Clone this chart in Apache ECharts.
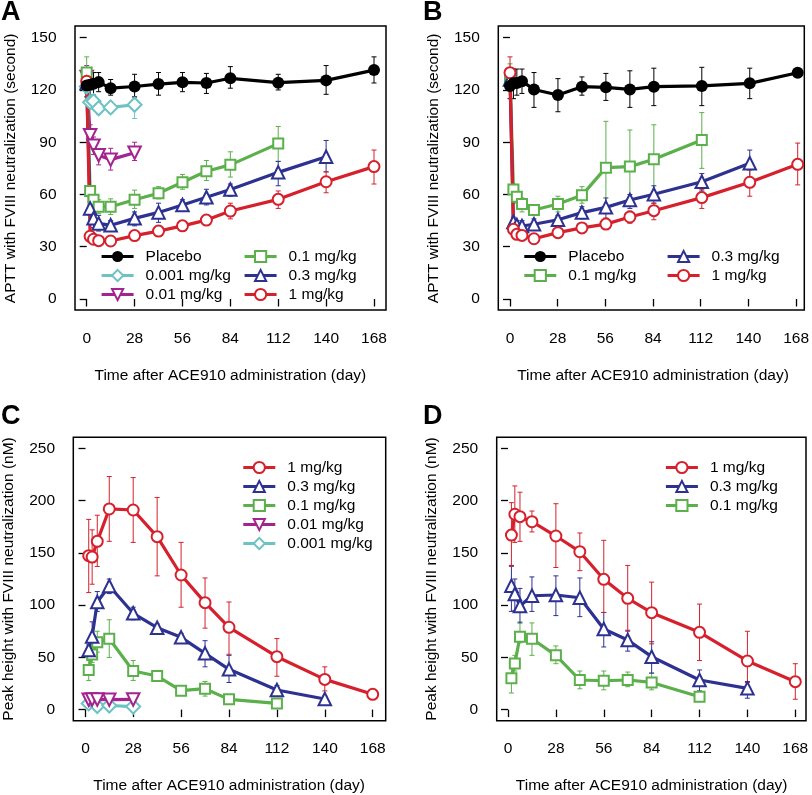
<!DOCTYPE html>
<html><head><meta charset="utf-8">
<script src="https://cdn.jsdelivr.net/npm/echarts@6/dist/echarts.min.js"></script>
<style>html,body{margin:0;padding:0;background:#fff}#c{width:812px;height:795px}</style>
</head><body><div id="c"></div>
<script>
// ---------- DATA ----------
const days = [0, 2, 4, 7, 14, 28, 42, 56, 70, 84, 112, 140, 168];
const xTicks = [0, 28, 56, 84, 112, 140, 168];
const namePlacebo = 'Placebo', n0001 = '0.001 mg/kg', n001 = '0.01 mg/kg', n01 = '0.1 mg/kg', n03 = '0.3 mg/kg', n1 = '1 mg/kg';

// Panel A: APTT, all groups
const A_placebo    = [122.5, 123, 123.5, 124.5, 121, 122, 123.4, 124.4, 124, 126.7, 124.2, 125.5, 131.4];
const A_placebo_lo = [116, 116, 117, 119, 117, 116, 117, 119, 118, 121, 120, 117.5, 124];
const A_placebo_hi = [130, 130, 130, 130, 126, 129, 130, 130, 129.5, 133.4, 129, 134, 139];
const A_0001    = [122, 113, 113.5, 109.5, 110, 111.5];
const A_0001_lo = [118, 110, 109, 106, 106.5, 103.6];
const A_0001_hi = [126, 116, 117, 113, 113, 116];
const A_001     = [127.5, 94, 88, 82.5, 80, 84];
const A_001_lo  = [121, 88, 83, 77, 74, 79.5];
const A_001_hi  = [134, 100, 93, 86, 86.5, 90];
const A_01      = [130, 62, 57, 53, 53, 57, 60.7, 67, 73.3, 77, 89.2];
const A_01_lo   = [121, 59, 53, 49, 48.5, 52, 57.5, 63, 68, 70, 79];
const A_01_hi   = [139, 65, 60, 57, 57.5, 62.5, 64.5, 71.5, 79.5, 84.5, 99];
const A_03      = [124, 52, 46.3, 43.4, 42.3, 46.3, 49.7, 54, 58.4, 62.9, 72.7, 81.7];
const A_03_lo   = [119, 48, 41, 39, 39, 42, 44, 50.5, 54, 59, 65, 73];
const A_03_hi   = [129, 56, 51, 48, 45, 50, 55, 57, 63, 66, 79, 91];
const A_1       = [125, 36, 34.3, 33.5, 33.3, 36.4, 39, 42, 45.3, 50.5, 57.2, 67.3, 76];
const A_1_lo    = [120, 34, 32.5, 31.5, 31.5, 34.5, 37, 40.5, 43.5, 46, 52, 61, 66];
const A_1_hi    = [130, 38, 36, 35.5, 35, 38.5, 41, 44, 47.5, 55, 62, 73, 85.5];

// Panel B: APTT, multiple-dose groups
const B_placebo    = [122.3, 123.8, 124, 125, 120.3, 117.1, 121.9, 121.5, 120.3, 121.9, 122.3, 123.8, 129.9];
const B_placebo_lo = [115, 115, 117, 118, 110, 107.5, 117, 114, 110, 111, 111, 115, 128];
const B_placebo_hi = [130, 132, 132, 132, 130, 126.5, 127.5, 129.5, 131, 132.5, 133, 132.5, 131];
const B_01      = [127.5, 62.9, 58.7, 54.5, 51.1, 54.5, 59.5, 75.4, 76, 80.2, 91.3];
const B_01_lo   = [120, 60, 55, 50, 49, 50, 55, 49, 56, 60, 75];
const B_01_hi   = [135, 66, 62, 58, 53, 59, 64.5, 102, 97, 100, 107];
const B_03      = [126, 44.2, 42.5, 41.9, 42.9, 45.5, 49.6, 52.6, 56.8, 60.1, 67.3, 77.9];
const B_03_lo   = [121, 41, 40, 39, 40, 43, 46, 46, 52, 55, 62, 70];
const B_03_hi   = [132, 47, 45, 45, 46, 48, 53, 58, 60, 65, 72, 85.5];
const B_1       = [129.9, 40, 37.1, 36.5, 34.6, 38.1, 40.8, 43, 47.1, 50.7, 58.2, 67, 77.3];
const B_1_lo    = [121, 38, 35, 35, 33, 36.5, 39, 40, 43.5, 45.5, 52, 59, 65.5];
const B_1_hi    = [139, 42, 39, 38.5, 36.5, 40, 43, 46.5, 50.5, 55, 63, 74, 89.5];

// Panel C: peak height, all groups
const C_1       = [null, 147.3, 146, 161, 192, 191, 165.5, 128.8, 102.4, 78.8, 50.7, 29, 14.7];
const C_1_lo    = [null, 112, 120, 137, 161, 160, 128, 98, 78, 53, 32, 18, 13];
const C_1_hi    = [null, 182, 172, 186, 223, 222, 203, 160, 126, 103, 68, 41, 16];
const C_03      = [null, 57, 70, 103, 118.3, 92.2, 78.4, 69.2, 53.9, 38.6, 18.8, 10.2];
const C_03_lo   = [null, 52, 60, 94, 111, 86, 74, 66, 41, 26, 14, 5];
const C_03_hi   = [null, 62, 84, 113, 125, 98, 82, 73, 66, 52, 23, 13];
const C_01      = [null, 37.9, 52.9, 64.4, 67.9, 37, 32.2, 18.2, 20.1, 9.9, 6];
const C_01_lo   = [null, 28, 45, 55, 50, 28, 29, 15, 13, 8, 5];
const C_01_hi   = [null, 47, 60, 75, 86, 47, 36, 22, 27, 12, 7];
const C_001     = [null, 9.5, 9.8, 9.8, 9.6, 9.8];
const C_001_lo  = [null, 8.5, 8.8, 8.8, 8.6, 8.8];
const C_001_hi  = [null, 10.5, 10.8, 10.8, 10.6, 10.8];
const C_0001    = [null, 6, null, 3.5, 4, 3];
const C_0001_lo = [null, 5, null, 2.5, 3, 2];
const C_0001_hi = [null, 7, null, 4.5, 5, 4];

// Panel D: peak height, multiple-dose groups
const D_1       = [null, 167, 186.9, 184.6, 179.8, 166.1, 151.1, 124.7, 106.5, 92.8, 74, 46.6, 26.8];
const D_1_lo    = [null, 137, 160, 161, 170, 136, 133, 93, 75, 63, 47, 26, 10];
const D_1_hi    = [null, 198, 214, 208, 190, 197, 169, 162, 138, 122, 101, 75, 44];
const D_03      = [null, 118.6, 110.6, 99.2, 109, 109.7, 107.1, 77.2, 66.6, 50.7, 28.4, 20.4];
const D_03_lo   = [null, 94, 95, 83, 94, 90, 89, 60, 56, 35, 18, 11];
const D_03_hi   = [null, 138, 125, 116, 127, 128, 126, 93, 76, 65, 38, 27];
const D_01      = [null, 30, 44.3, 69.8, 67.9, 52, 28.4, 27.7, 28.4, 26.1, 12.4];
const D_01_lo   = [null, 16, 37, 64, 52, 44, 20, 19, 22, 19, 10];
const D_01_hi   = [null, 44, 52, 84, 83, 61, 37, 37, 36, 35, 15];

// ---------- STYLE ----------
const FONT = 'Liberation Sans, Arial, sans-serif';
const sty = {};
sty[namePlacebo] = {color: '#000000', symbol: 'circle', size: 12, filled: true, rot: 0};
sty[n0001] = {color: '#6dc2c4', symbol: 'diamond', size: 14, filled: false, rot: 0};
sty[n001]  = {color: '#a3238f', symbol: 'triangle', size: 12.5, filled: false, rot: 180};
sty[n01]   = {color: '#5bb04b', symbol: 'rect', size: 10, filled: false, rot: 0};
sty[n03]   = {color: '#2d3190', symbol: 'triangle', size: 12.5, filled: false, rot: 0};
sty[n1]    = {color: '#d6202c', symbol: 'circle', size: 11, filled: false, rot: 0};

const panels = [
  {letter: 'A', L: {l: 75, r: 386, t: 26, b: 310, x0: 86.7, x168: 374, yTop: 37.7, y0: 299, yMax: 150, yInt: 30},
   yName: 'APTT with FVIII neutralization (second)',
   groups: [[n0001, A_0001, A_0001_lo, A_0001_hi], [n001, A_001, A_001_lo, A_001_hi], [n01, A_01, A_01_lo, A_01_hi],
            [n03, A_03, A_03_lo, A_03_hi], [n1, A_1, A_1_lo, A_1_hi], [namePlacebo, A_placebo, A_placebo_lo, A_placebo_hi]],
   legends: [{left: 100, top: 248.5, data: [namePlacebo, n0001, n001]}, {left: 243, top: 248.5, data: [n01, n03, n1]}]},
  {letter: 'B', L: {l: 498.3, r: 804.3, t: 26, b: 310, x0: 510, x168: 797.7, yTop: 37.7, y0: 299, yMax: 150, yInt: 30},
   yName: 'APTT with FVIII neutralization (second)',
   groups: [[n01, B_01, B_01_lo, B_01_hi], [n03, B_03, B_03_lo, B_03_hi], [n1, B_1, B_1_lo, B_1_hi], [namePlacebo, B_placebo, B_placebo_lo, B_placebo_hi]],
   legends: [{left: 522.7, top: 248.5, data: [namePlacebo, n01]}, {left: 666, top: 248.5, data: [n03, n1]}]},
  {letter: 'C', L: {l: 73.3, r: 385.7, t: 437.3, b: 720.7, x0: 85.3, x168: 372.7, yTop: 448.3, y0: 709.7, yMax: 250, yInt: 50},
   yName: 'Peak height with FVIII neutralization (nM)',
   groups: [[n0001, C_0001, C_0001_lo, C_0001_hi], [n001, C_001, C_001_lo, C_001_hi], [n01, C_01, C_01_lo, C_01_hi],
            [n03, C_03, C_03_lo, C_03_hi], [n1, C_1, C_1_lo, C_1_hi]],
   legends: [{left: 241.7, top: 459.5, data: [n1, n03, n01, n001, n0001]}]},
  {letter: 'D', L: {l: 496.7, r: 806, t: 437.3, b: 720.7, x0: 508, x168: 795.3, yTop: 448.3, y0: 709.7, yMax: 250, yInt: 50},
   yName: 'Peak height with FVIII neutralization (nM)',
   groups: [[n01, D_01, D_01_lo, D_01_hi], [n03, D_03, D_03_lo, D_03_hi], [n1, D_1, D_1_lo, D_1_hi]],
   legends: [{left: 664.3, top: 459.5, data: [n1, n03, n01]}]}
];
const letterPos = [{left: 1, top: -1}, {left: 423, top: -1}, {left: 1, top: 403}, {left: 423, top: 403}];

const opt = {animation: false, backgroundColor: '#fff', grid: [], xAxis: [], yAxis: [], series: [], legend: [], title: []};

panels.forEach((p, k) => {
  const L = p.L;
  const pxX = (L.x168 - L.x0) / 168;
  const pxY = (L.y0 - L.yTop) / L.yMax;
  const gi = opt.grid.length;
  // box grid (data)
  opt.grid.push({left: L.l, top: L.t, width: L.r - L.l, height: L.b - L.t, show: true, borderColor: '#000', borderWidth: 1.5, backgroundColor: 'transparent'});
  opt.xAxis.push({gridIndex: gi, type: 'value', min: -(L.x0 - L.l) / pxX, max: 168 + (L.r - L.x168) / pxX, show: false});
  opt.yAxis.push({gridIndex: gi, type: 'value', min: -(L.b - L.y0) / pxY, max: L.yMax + (L.yTop - L.t) / pxY, show: false});
  // axis grid (ticks & labels)
  opt.grid.push({left: L.x0, top: L.yTop, width: L.x168 - L.x0, height: L.y0 - L.yTop, show: false});
  const tickStyle = {color: '#000', width: 1.3};
  opt.xAxis.push({gridIndex: gi + 1, type: 'value', min: 0, max: 168, interval: 28, offset: L.b - L.y0 + 2.4,
    axisLine: {show: false}, axisTick: {show: true, length: 7.5, lineStyle: tickStyle}, splitLine: {show: false},
    axisLabel: {color: '#000', fontSize: 15.5, fontFamily: FONT, margin: 18, showMinLabel: true, showMaxLabel: true},
    name: 'Time after ACE910 administration (day)', nameLocation: 'middle', nameGap: 55,
    nameTextStyle: {color: '#000', fontSize: 15.5, fontFamily: FONT}});
  opt.yAxis.push({gridIndex: gi + 1, type: 'value', min: 0, max: L.yMax, interval: L.yInt, offset: L.x0 - L.l + 2.5,
    axisLine: {show: false}, axisTick: {show: true, length: 7, lineStyle: tickStyle}, splitLine: {show: false},
    axisLabel: {color: '#000', fontSize: 15.5, fontFamily: FONT, margin: 16, showMinLabel: true, showMaxLabel: true},
    name: p.yName, nameLocation: 'middle', nameGap: 54,
    nameTextStyle: {color: '#000', fontSize: 15.5, fontFamily: FONT}});

  p.groups.forEach(g => {
    const [name, vals, lo, hi] = g;
    const s = sty[name];
    const errData = [];
    vals.forEach((v, i) => { if (v != null && lo[i] != null) errData.push([days[i], lo[i], hi[i]]); });
    opt.series.push({type: 'custom', name: name + ' err', xAxisIndex: gi, yAxisIndex: gi, z: 2, silent: true,
      data: errData, encode: {x: 0, y: [1, 2]},
      renderItem: (params, api) => {
        const x = api.value(0);
        const a = api.coord([x, api.value(1)]);
        const b = api.coord([x, api.value(2)]);
        const w = 2.5;
        const st = {stroke: s.color, lineWidth: 1};
        return {type: 'group', children: [
          {type: 'line', shape: {x1: a[0], y1: a[1], x2: b[0], y2: b[1]}, style: st},
          {type: 'line', shape: {x1: a[0] - w, y1: a[1], x2: a[0] + w, y2: a[1]}, style: st},
          {type: 'line', shape: {x1: b[0] - w, y1: b[1], x2: b[0] + w, y2: b[1]}, style: st}
        ]};
      }});
  });
  p.groups.forEach(g => {
    const [name, vals] = g;
    const s = sty[name];
    const data = [];
    vals.forEach((v, i) => { if (v != null) data.push([days[i], v]); });
    opt.series.push({type: 'line', name: name, xAxisIndex: gi, yAxisIndex: gi, z: 3,
      data: data, symbol: s.symbol, symbolSize: s.size, symbolRotate: s.rot, showAllSymbol: true,
      lineStyle: {color: s.color, width: 3.2},
      itemStyle: {color: s.filled ? s.color : '#fff', borderColor: s.color, borderWidth: s.filled ? 0 : 2},
      emphasis: {disabled: true}});
  });
  p.legends.forEach(lg => {
    opt.legend.push({left: lg.left, top: lg.top, orient: 'vertical', data: lg.data, itemWidth: 32, itemHeight: 14,
      itemGap: 3, padding: 0, selectedMode: false, lineStyle: {width: 3.2},
      textStyle: {color: '#000', fontSize: 15.5, fontFamily: FONT, lineHeight: 16, padding: [0, 0, 0, 7]}});
  });
  opt.title.push({text: p.letter, left: letterPos[k].left, top: letterPos[k].top, padding: 0,
    textStyle: {fontSize: 27, fontWeight: 'bold', color: '#000', fontFamily: FONT}});
});

const chart = echarts.init(document.getElementById('c'), null, {renderer: 'canvas'});
chart.setOption(opt);
</script>
</body></html>
